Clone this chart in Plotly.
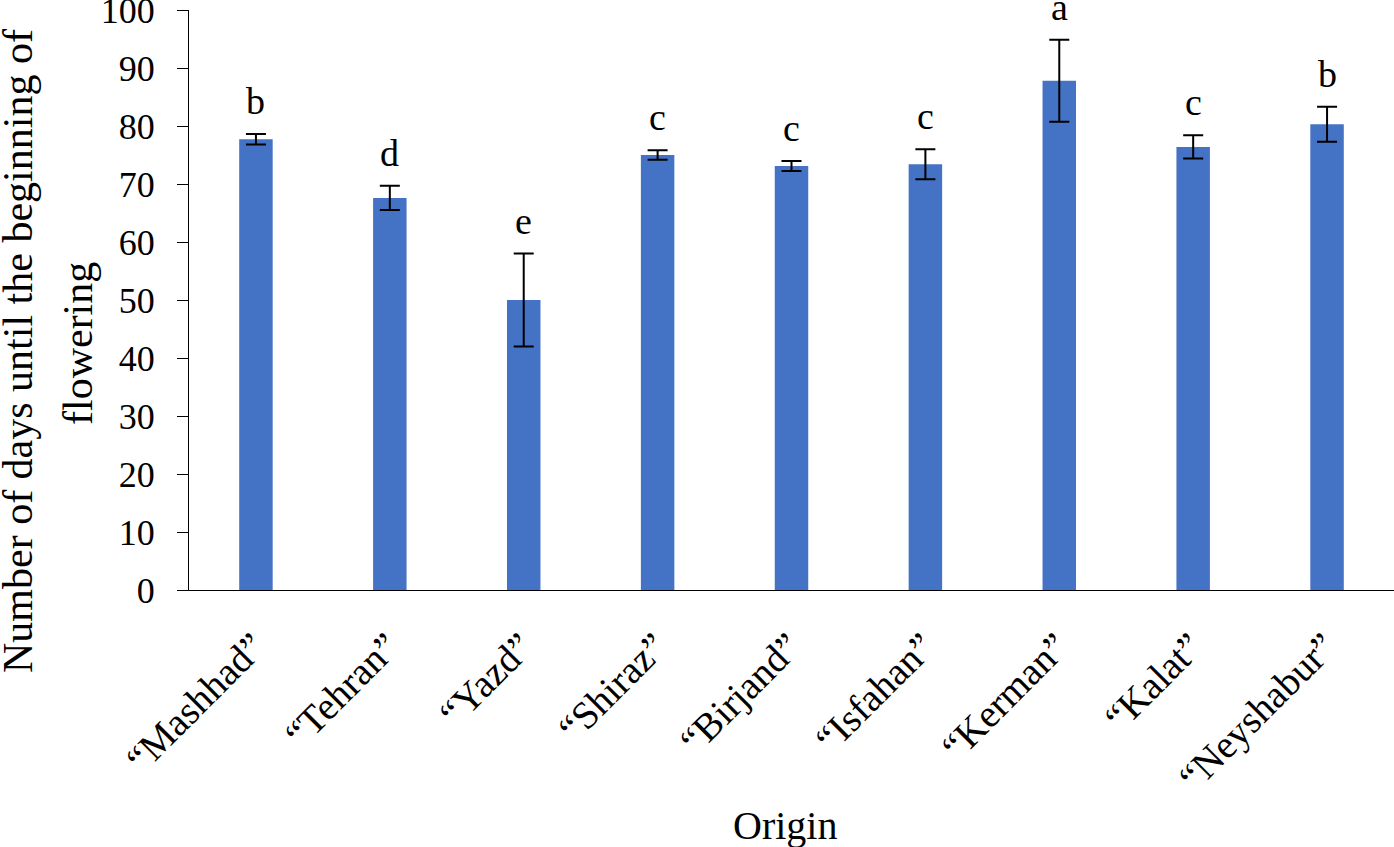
import plotly.graph_objects as go

categories = ["“Mashhad”", "“Tehran”", "“Yazd”", "“Shiraz”", "“Birjand”",
              "“Isfahan”", "“Kerman”", "“Kalat”", "“Neyshabur”"]
days_mean = [77.7, 67.6, 50.0, 75.0, 73.1, 73.4, 87.8, 76.4, 80.3]
days_err = [0.9, 2.1, 8.0, 0.8, 0.85, 2.6, 7.05, 2.0, 3.0]
letters = ["b", "d", "e", "c", "c", "c", "a", "c", "b"]
y_ticks = [0, 10, 20, 30, 40, 50, 60, 70, 80, 90, 100]

FONT = "Liberation Serif, Times New Roman, serif"

fig = go.Figure()
fig.add_trace(go.Bar(
    x=categories, y=days_mean, width=0.25,
    marker=dict(color="#4472C4", line=dict(width=0)),
    error_y=dict(type="data", array=days_err, visible=True,
                 color="black", thickness=2, width=10),
    showlegend=False,
))

for cat, m, e, lab in zip(categories, days_mean, days_err, letters):
    fig.add_annotation(x=cat, y=m + e, text=lab, showarrow=False,
                       xref="x", yref="y", yanchor="bottom", yshift=10,
                       font=dict(family=FONT, size=38, color="black"))

# axis titles
fig.add_annotation(text="Number of days until the beginning of", textangle=-90,
                   xref="paper", yref="paper", x=(18 - 189) / 1205, y=(590 - 351) / 580,
                   xanchor="center", yanchor="middle", showarrow=False,
                   font=dict(family=FONT, size=42, color="black"))
fig.add_annotation(text="flowering", textangle=-90,
                   xref="paper", yref="paper", x=(78 - 189) / 1205, y=(590 - 344) / 580,
                   xanchor="center", yanchor="middle", showarrow=False,
                   font=dict(family=FONT, size=42, color="black"))
fig.add_annotation(text="Origin", xref="paper", yref="paper",
                   x=(785 - 189) / 1205, y=(590 - 825) / 580,
                   xanchor="center", yanchor="middle", showarrow=False,
                   font=dict(family=FONT, size=40, color="black"))

fig.update_layout(
    width=1394, height=847,
    margin=dict(l=189, r=0, t=10, b=257, autoexpand=False),
    plot_bgcolor="white", paper_bgcolor="white",
    font=dict(family=FONT, size=36, color="black"),
    bargap=0.75,
)
fig.update_xaxes(
    showline=True, linecolor="black", linewidth=1,
    ticks="", tickangle=-45, showgrid=False, zeroline=False,
    tickfont=dict(family=FONT, size=39, color="black"),
    ticklabelstandoff=17, ticklabelshift=-2, automargin=False,
)
fig.update_yaxes(
    range=[0, 100], tickvals=y_ticks, showline=True, linecolor="black", linewidth=1,
    ticks="outside", ticklen=11, tickcolor="black", tickwidth=1,
    showgrid=False, zeroline=False,
    tickfont=dict(family=FONT, size=36, color="black"),
    ticklabelstandoff=15, ticklabeloverflow="allow", automargin=False,
)

fig.write_html("out.html", config={"displayModeBar": False},
               post_script="document.body.style.margin='0';")
